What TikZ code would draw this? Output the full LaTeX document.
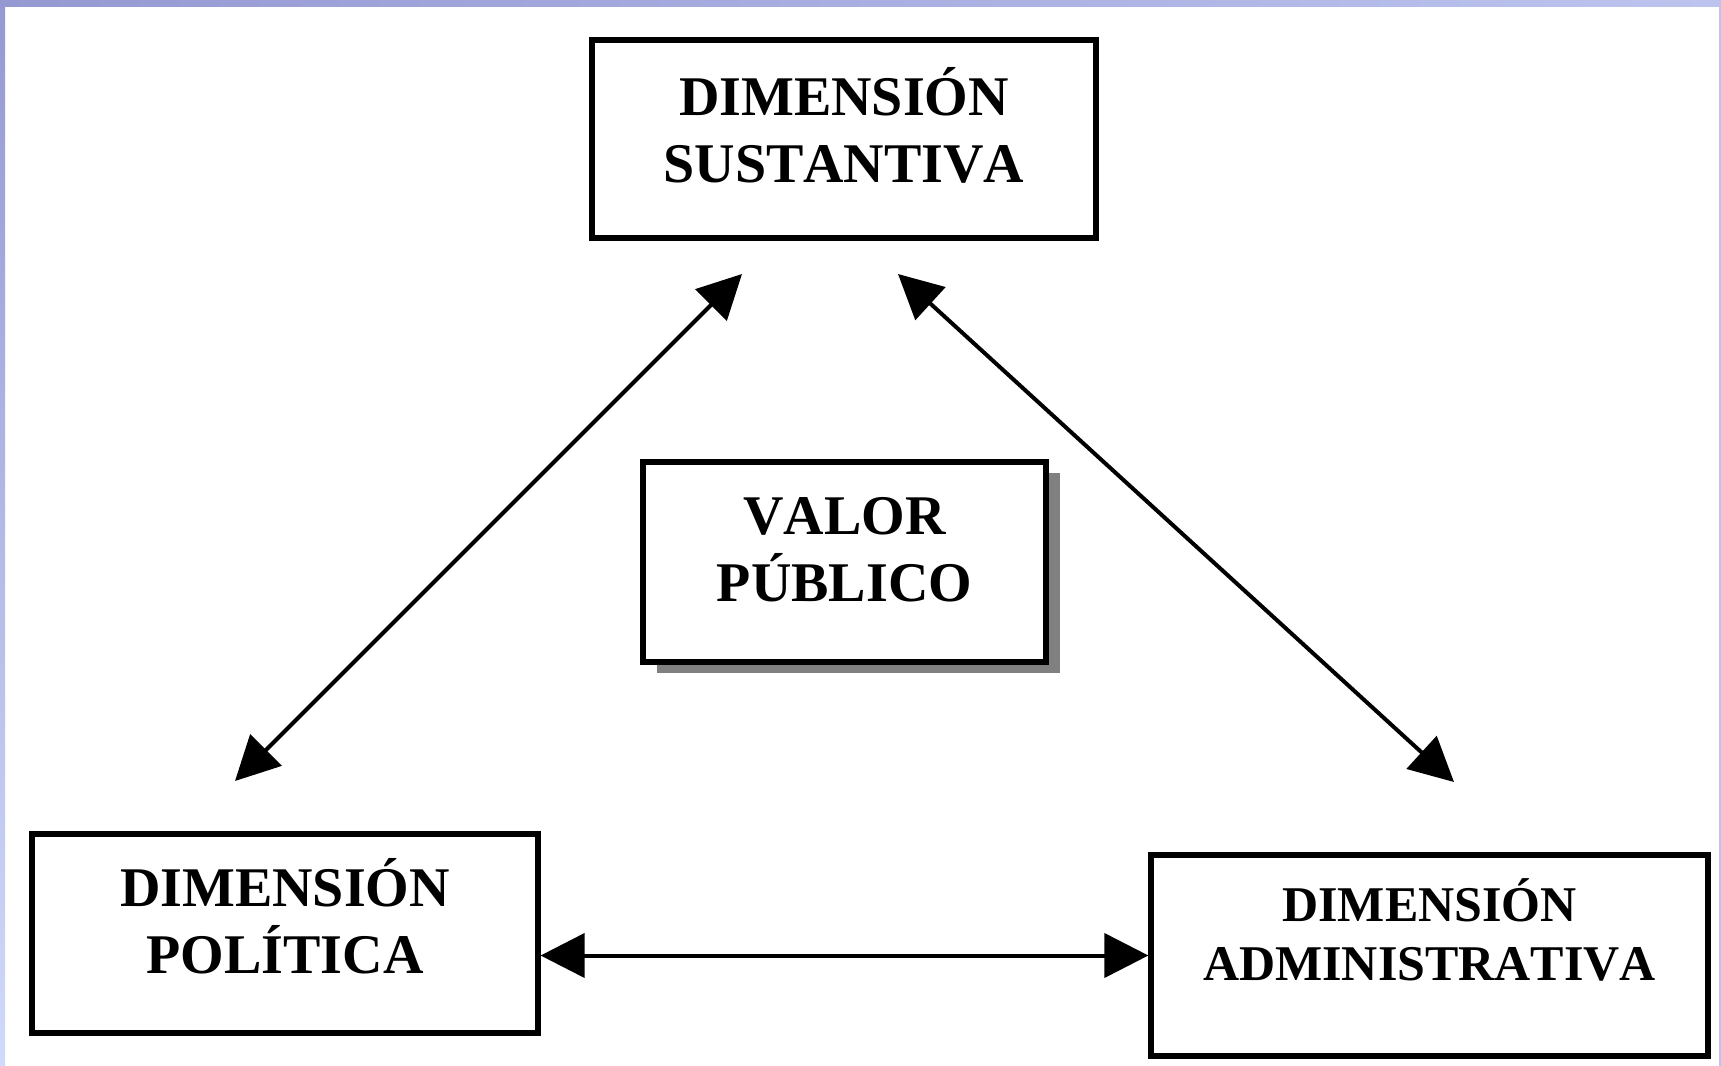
\documentclass[tikz,border=0pt]{standalone}
\usepackage{fontspec}
\setmainfont{Liberation Serif}[Kerning=Off]
\usetikzlibrary{arrows.meta,shadows}
\definecolor{frameA}{HTML}{9599D2}
\definecolor{frameB}{HTML}{BCC4EE}
\definecolor{frameC}{HTML}{D0DAFA}
\tikzset{
  box/.style={draw=black, line width=2.6pt, fill=white, rectangle, inner sep=0pt},
  lbl/.style={align=center, font=\bfseries\fontsize{28pt}{33.5pt}\selectfont, inner sep=0pt},
  lblsmall/.style={align=center, font=\bfseries\fontsize{25pt}{29.5pt}\selectfont, inner sep=0pt},
  arr/.style={line width=2pt, {Triangle[length=22pt,width=22pt]}-{Triangle[length=22pt,width=22pt]}},
}
\begin{document}
\begin{tikzpicture}[x=0.5pt,y=-0.5pt]
\useasboundingbox (0,0) rectangle (1721,1066);
\fill[white] (0,0) rectangle (1721,1066);
% lavender frame
\shade[left color=frameA, right color=frameB] (0,0) rectangle (1721,6);
\shade[top color=frameA, bottom color=frameC] (0,0) rectangle (5,1066);
\fill[frameB] (1719,0) rectangle (1721,1066);

% boxes
\node[box, minimum width=252pt, minimum height=99pt] (sus) at (844,139) {};
\node[box, minimum width=201.5pt, minimum height=100pt,
      drop shadow={shadow xshift=7pt, shadow yshift=-5.5pt, fill=black!50, opacity=1}] (val) at (844.5,562) {};
\node[box, minimum width=253pt, minimum height=99.5pt] (pol) at (285,933.5) {};
\node[box, minimum width=278.5pt, minimum height=100.5pt] (adm) at (1429.5,955.5) {};

% texts
\node[lbl] (susT) at ([yshift=6.75pt]sus.center) {DIMENSIÓN\\SUSTANTIVA};
\node[lbl] (valT) at ([yshift=6.25pt]val.center) {VALOR\\PÚBLICO};
\node[lbl] (polT) at ([yshift=8.5pt]pol.center) {DIMENSIÓN\\POLÍTICA};
\node[lblsmall] (admT) at ([yshift=12.75pt]adm.center) {DIMENSIÓN\\ADMINISTRATIVA};

% connector ends
\coordinate (sL) at (742,274);
\coordinate (pL) at (235,781);
\coordinate (sR) at (898,274);
\coordinate (aR) at (1454,782);

\draw[arr] (sL) -- (pL);
\draw[arr] (sR) -- (aR);
\draw[arr] (pol.east |- adm.west) -- (adm.west);
\end{tikzpicture}
\end{document}
